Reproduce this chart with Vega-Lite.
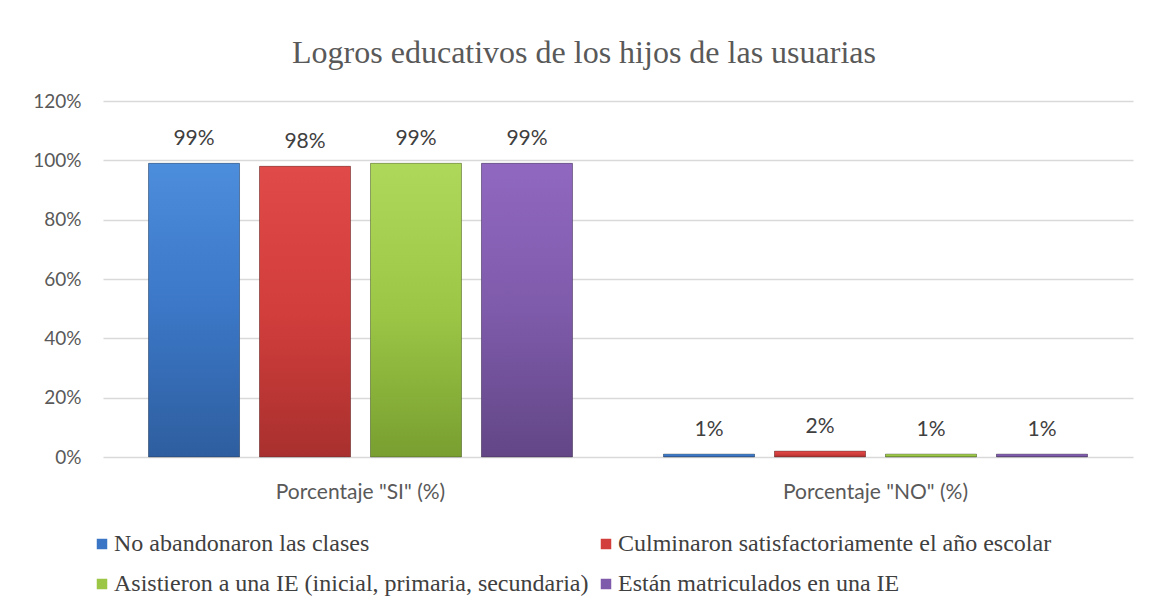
{
  "$schema": "https://vega.github.io/schema/vega-lite/v6.json",
  "width": 1030,
  "height": 356,
  "autosize": {"type": "none"},
  "padding": {"left": 103, "top": 101, "right": 19, "bottom": 151},
  "background": "white",
  "title": {
    "text": "Logros educativos de los hijos de las usuarias",
    "font": "Liberation Serif",
    "fontSize": 32,
    "fontWeight": "normal",
    "color": "#595959",
    "anchor": "middle",
    "frame": "group",
    "dx": -34,
    "offset": 22
  },
  "data": {
    "values": [
      {"grupo": "Porcentaje \"SI\" (%)", "serie": "No abandonaron las clases", "valor": 0.99},
      {"grupo": "Porcentaje \"SI\" (%)", "serie": "Culminaron satisfactoriamente el año escolar", "valor": 0.98},
      {"grupo": "Porcentaje \"SI\" (%)", "serie": "Asistieron a una IE (inicial, primaria, secundaria)", "valor": 0.99},
      {"grupo": "Porcentaje \"SI\" (%)", "serie": "Están matriculados en una IE", "valor": 0.99},
      {"grupo": "Porcentaje \"NO\" (%)", "serie": "No abandonaron las clases", "valor": 0.01},
      {"grupo": "Porcentaje \"NO\" (%)", "serie": "Culminaron satisfactoriamente el año escolar", "valor": 0.02},
      {"grupo": "Porcentaje \"NO\" (%)", "serie": "Asistieron a una IE (inicial, primaria, secundaria)", "valor": 0.01},
      {"grupo": "Porcentaje \"NO\" (%)", "serie": "Están matriculados en una IE", "valor": 0.01}
    ]
  },
  "encoding": {
    "x": {
      "field": "grupo",
      "type": "nominal",
      "sort": ["Porcentaje \"SI\" (%)", "Porcentaje \"NO\" (%)"],
      "scale": {"paddingInner": 0.138, "paddingOuter": 0.069},
      "axis": {
        "title": null,
        "labelAngle": 0,
        "ticks": false,
        "domain": false,
        "labelFont": "Lato",
        "labelFontSize": 21,
        "labelColor": "#595959",
        "labelPadding": 24,
        "labelLimit": 500
      }
    },
    "xOffset": {
      "field": "serie",
      "type": "nominal",
      "sort": ["No abandonaron las clases", "Culminaron satisfactoriamente el año escolar", "Asistieron a una IE (inicial, primaria, secundaria)", "Están matriculados en una IE"],
      "scale": {"paddingInner": 0.18, "paddingOuter": 0.09}
    },
    "y": {
      "field": "valor",
      "type": "quantitative",
      "scale": {"domain": [0, 1.2], "nice": false},
      "axis": {
        "title": null,
        "format": ".0%",
        "values": [0, 0.2, 0.4, 0.6, 0.8, 1.0, 1.2],
        "ticks": false,
        "domain": false,
        "grid": true,
        "gridColor": "#d9d9d9",
        "gridWidth": 1.5,
        "labelFont": "Lato",
        "labelFontSize": 19,
        "labelColor": "#595959",
        "labelPadding": 22
      }
    }
  },
  "layer": [
    {
      "mark": {"type": "bar"},
      "encoding": {
        "color": {
          "field": "serie",
          "type": "nominal",
          "scale": {
            "domain": ["No abandonaron las clases", "Culminaron satisfactoriamente el año escolar", "Asistieron a una IE (inicial, primaria, secundaria)", "Están matriculados en una IE"],
            "range": ["#3b76c6", "#d23e3c", "#9cc746", "#7f5bab"]
          },
          "legend": {
            "title": null,
            "orient": "none",
            "legendX": -13,
            "legendY": 431,
            "columns": 2,
            "direction": "horizontal",
            "symbolType": "square",
            "symbolSize": 110,
            "symbolStrokeWidth": 0,
            "labelFont": "Liberation Serif",
            "labelFontSize": 24,
            "labelColor": "#404040",
            "labelLimit": 600,
            "labelOffset": 0,
            "rowPadding": 16,
            "columnPadding": 5
          }
        }
      }
    },
    {
      "mark": {"type": "bar", "stroke": "#2a2a2a", "strokeOpacity": 0.35, "strokeWidth": 1},
      "encoding": {
        "fill": {
          "condition": [
            {"test": "datum.serie === 'No abandonaron las clases'", "value": {"gradient": "linear", "x1": 0, "y1": 0, "x2": 0, "y2": 1, "stops": [{"offset": 0, "color": "#4c8ddc"}, {"offset": 0.5, "color": "#3b77c6"}, {"offset": 1, "color": "#2e5e9f"}]}},
            {"test": "datum.serie === 'Culminaron satisfactoriamente el año escolar'", "value": {"gradient": "linear", "x1": 0, "y1": 0, "x2": 0, "y2": 1, "stops": [{"offset": 0, "color": "#e04a48"}, {"offset": 0.5, "color": "#d23e3c"}, {"offset": 1, "color": "#a8302e"}]}},
            {"test": "datum.serie === 'Asistieron a una IE (inicial, primaria, secundaria)'", "value": {"gradient": "linear", "x1": 0, "y1": 0, "x2": 0, "y2": 1, "stops": [{"offset": 0, "color": "#aed85a"}, {"offset": 0.5, "color": "#9cc746"}, {"offset": 1, "color": "#789f30"}]}}
          ],
          "value": {"gradient": "linear", "x1": 0, "y1": 0, "x2": 0, "y2": 1, "stops": [{"offset": 0, "color": "#9068c0"}, {"offset": 0.5, "color": "#7f5bab"}, {"offset": 1, "color": "#624686"}]}
        }
      }
    },
    {
      "mark": {"type": "text", "baseline": "alphabetic", "dy": -18, "font": "Lato", "fontSize": 21, "color": "#404040"},
      "encoding": {
        "text": {"field": "valor", "type": "quantitative", "format": ".0%"}
      }
    }
  ],
  "config": {
    "view": {"stroke": null}
  }
}
